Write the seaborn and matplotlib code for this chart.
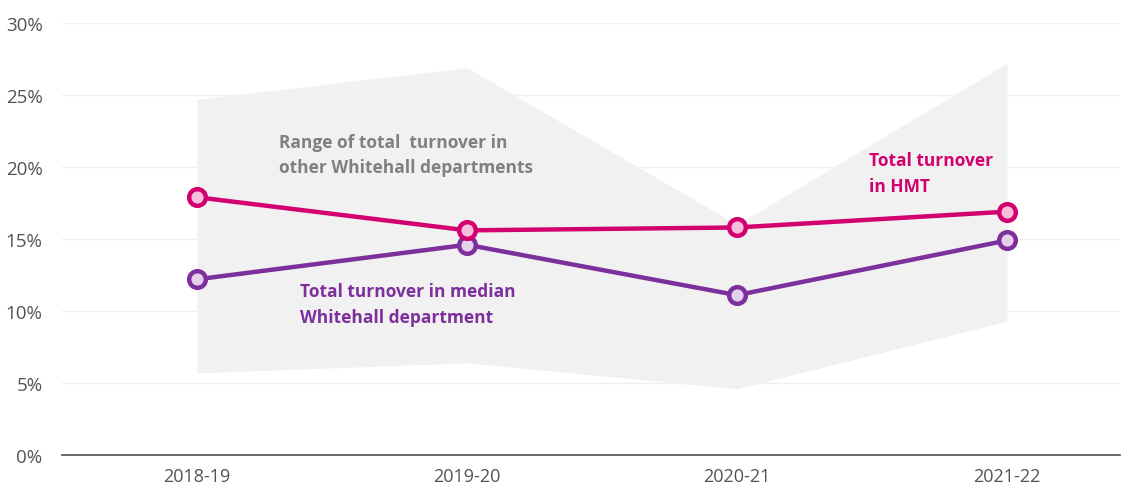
import matplotlib
matplotlib.use("Agg")
import matplotlib.pyplot as plt
import seaborn as sns
import pandas as pd
import numpy as np

years = ["2018-19", "2019-20", "2020-21", "2021-22"]
hmt_turnover = [17.9, 15.6, 15.8, 16.9]
median_turnover = [12.2, 14.6, 11.1, 14.9]
range_low = [5.7, 6.4, 4.6, 9.3]
range_high = [24.7, 26.9, 16.0, 27.2]
y_ticks = [0, 5, 10, 15, 20, 25, 30]

sns.set_theme(style="white")
plt.rcParams["font.family"] = ["Open Sans", "DejaVu Sans"]

fig = plt.figure(figsize=(11.32, 4.89), dpi=100)
ax = fig.add_axes([62 / 1132, 33 / 489, (1120 - 62) / 1132, (456 - 24) / 489])

x = np.arange(len(years))
df = pd.DataFrame({
    "x": np.concatenate([x, x]),
    "turnover": hmt_turnover + median_turnover,
    "series": ["HMT"] * len(years) + ["Median"] * len(years),
})

ax.fill_between(x, range_low, range_high, color="#f1f1f1", lw=0, zorder=1)

for yv in y_ticks[1:]:
    ax.axhline(yv, color="#efefef", lw=1, zorder=0.5)

colors = {"HMT": "#d3006f", "Median": "#7d2f9b"}
fills = {"HMT": "#f8bfdc", "Median": "#e5d1ee"}
for name in ["Median", "HMT"]:
    sub = df[df["series"] == name]
    sns.lineplot(data=sub, x="x", y="turnover", ax=ax, color=colors[name],
                 lw=3.2, marker="o", markersize=12, markeredgewidth=3.2,
                 markeredgecolor=colors[name], markerfacecolor=fills[name],
                 zorder=3, legend=False)

ax.set_xlim(-0.5, 3 + 113 / 270)
ax.set_ylim(0, 30)
ax.set_xticks(x)
ax.set_xticklabels(years)
ax.set_yticks(y_ticks)
ax.set_yticklabels([f"{v}%" for v in y_ticks])
ax.tick_params(axis="both", length=0, labelsize=13.5, labelcolor="#4f545b")
ax.tick_params(axis="y", pad=14)
ax.tick_params(axis="x", pad=9, labelsize=13)
ax.set_xlabel("")
ax.set_ylabel("")
for side in ["top", "right", "left"]:
    ax.spines[side].set_visible(False)
ax.spines["bottom"].set_color("#4a4f57")
ax.spines["bottom"].set_linewidth(1.2)
ax.spines["bottom"].set_zorder(4)

label_style = dict(fontsize=12.5, fontweight="bold", linespacing=1.55,
                   va="center", ha="left", zorder=5)
ax.text(0.305, 20.87, "Range of total  turnover in\nother Whitehall departments",
        color="#808080", **label_style)
ax.text(0.38, 10.5, "Total turnover in median\nWhitehall department",
        color="#7d2f9b", **label_style)
ax.text(2.49, 19.58, "Total turnover\nin HMT",
        color="#d3006f", **label_style)

fig.savefig("out.png", dpi=100)
